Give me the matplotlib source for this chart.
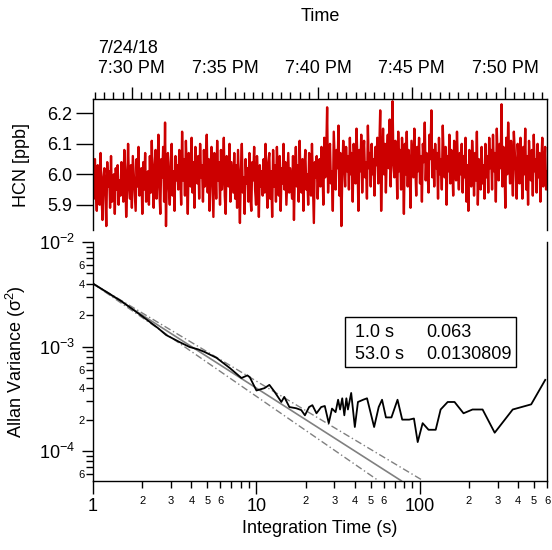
import numpy as np
import pandas as pd
import matplotlib
matplotlib.use("Agg")
import matplotlib.pyplot as plt
import matplotlib.dates as mdates
from matplotlib.ticker import LogLocator, FuncFormatter
from matplotlib.patches import Rectangle

plt.rcParams['font.family'] = ['Liberation Sans', 'DejaVu Sans']
plt.rcParams['mathtext.fontset'] = 'custom'
plt.rcParams['mathtext.rm'] = 'Liberation Sans'
plt.rcParams['mathtext.it'] = 'Liberation Sans:italic'
plt.rcParams['mathtext.default'] = 'regular'

# --- HCN time series (ppb) ---
hcn_ppb = [
    6.00, 5.92, 6.05, 5.95, 5.88, 6.03, 5.98, 5.90, 6.07, 5.93, 5.85, 5.99, 6.02, 5.94, 5.83,
    6.04, 5.96, 6.01, 5.89, 6.06, 5.91, 5.97, 6.00, 5.87, 6.02, 5.95, 6.03, 5.90, 5.98, 5.93,
    6.04, 5.99, 5.91, 6.08, 6.01, 5.86, 5.95, 6.10, 5.97, 5.92, 6.03, 5.89, 6.06, 6.00, 5.94,
    5.88, 6.05, 5.96, 6.09, 5.93, 5.99, 6.02, 5.87, 6.04, 5.95, 6.07, 5.91, 5.98, 6.01, 5.90,
    6.06, 5.94, 6.11, 5.97, 5.89, 6.03, 6.08, 5.92, 6.00, 6.13, 5.95, 5.87, 6.05, 5.99, 6.09,
    5.91, 6.17, 5.83, 6.02, 6.07, 5.96, 5.90, 6.04, 6.10, 5.93, 6.01, 5.88, 6.06, 5.98, 6.03,
    5.95, 6.08, 6.02, 5.90, 6.14, 5.98, 6.05, 5.93, 6.11, 6.00, 5.87, 6.07, 6.03, 5.96, 6.12,
    5.94, 6.04, 5.89, 6.09, 6.01, 5.97, 6.06, 5.92, 6.10, 5.99, 6.03, 5.91, 6.08, 5.96, 6.02,
    6.13, 5.94, 6.05, 5.88, 6.01, 6.09, 5.97, 5.86, 6.07, 6.03, 5.92, 6.11, 5.98, 6.04, 5.90,
    6.08, 5.95, 6.00, 6.12, 5.93, 5.87, 6.06, 6.02, 5.96, 6.10, 5.91, 6.04, 5.99, 5.94, 6.07,
    5.92, 6.03, 5.89, 6.08, 5.96, 5.84, 6.01, 6.10, 5.94, 5.99, 5.87, 6.05, 5.97, 6.02, 5.91,
    6.07, 5.93, 5.88, 6.04, 5.98, 6.09, 5.95, 5.90, 6.06, 5.99, 5.86, 6.03, 5.96, 6.01, 5.93,
    6.05, 5.94, 6.10, 5.98, 5.89, 6.04, 6.07, 5.92, 6.01, 5.86, 6.08, 5.96, 6.03, 5.91, 6.09,
    6.00, 5.93, 6.06, 5.88, 6.02, 5.97, 6.10, 5.95, 6.04, 5.90, 5.99, 6.07, 5.94, 6.02, 5.97,
    5.92, 6.06, 5.85, 6.01, 6.09, 5.96, 6.03, 5.91, 6.11, 5.98, 5.94, 6.05, 5.88, 6.02, 6.08,
    5.95, 6.00, 5.90, 6.07, 6.03, 5.93, 6.10, 5.97, 5.84, 6.04, 5.99, 6.06, 5.92, 6.01, 6.05,
    5.96, 6.09, 6.03, 5.90, 6.12, 5.99, 6.06, 6.22, 5.94, 6.04, 6.10, 5.97, 6.01, 5.88, 6.14,
    6.05, 5.95, 6.08, 6.02, 6.16, 5.93, 6.07, 5.83, 6.00, 6.11, 6.04, 5.96, 6.09, 6.01, 6.06,
    5.95, 6.12, 6.00, 6.07, 5.91, 6.10, 6.03, 5.97, 6.15, 6.05, 5.88, 6.08, 6.01, 6.13, 5.94,
    6.06, 6.11, 5.99, 6.04, 5.92, 6.16, 6.02, 6.07, 5.96, 6.10, 6.00, 6.05, 5.93, 6.09, 6.03,
    6.12, 5.97, 6.08, 6.21, 5.88, 6.04, 6.15, 6.00, 6.10, 5.94, 6.07, 6.13, 6.02, 6.18, 5.96,
    6.09, 6.24, 6.03, 5.99, 6.11, 6.06, 5.92, 6.14, 6.01, 6.08, 5.95, 6.12, 6.04, 5.87, 6.10,
    6.00, 6.14, 5.96, 6.08, 6.02, 5.89, 6.11, 6.05, 5.99, 6.15, 6.03, 5.93, 6.09, 6.01, 6.12,
    5.97, 6.06, 5.91, 6.10, 6.04, 6.17, 5.98, 6.07, 6.00, 5.94, 6.13, 6.05, 6.21, 5.99, 6.08,
    5.96, 6.10, 6.02, 6.07, 5.92, 6.12, 6.00, 6.05, 5.95, 6.16, 6.04, 5.99, 6.09, 5.90, 6.06,
    6.01, 6.13, 5.97, 6.08, 6.03, 5.93, 6.11, 6.05, 5.98, 6.14, 6.02, 5.95, 6.07, 6.00, 6.10,
    5.94, 6.06, 5.99, 6.12, 5.91, 6.03, 5.88, 6.08, 6.00, 5.96, 6.11, 6.04, 5.93, 6.07, 5.98,
    6.14, 5.90, 6.05, 6.01, 5.95, 6.09, 5.97, 6.03, 5.92, 6.10, 5.99, 6.06, 5.94, 6.12, 6.02,
    6.08, 5.95, 6.13, 6.01, 6.07, 5.91, 6.15, 6.04, 5.98, 6.10, 6.02, 6.23, 5.96, 6.09, 6.05,
    5.89, 6.12, 6.00, 6.17, 6.06, 5.97, 6.11, 6.03, 5.93, 6.14, 6.07, 6.01, 5.92, 6.10, 6.04,
    5.97, 6.12, 6.03, 5.92, 6.09, 6.00, 6.15, 5.95, 6.06, 5.90, 6.11, 6.02, 5.98, 6.08, 5.93,
    6.13, 6.01, 6.05, 5.94, 6.10, 5.99, 6.07, 5.91, 6.04, 6.12, 5.96, 6.02, 6.09, 5.95, 6.01,
]
t_start = "2018-07-24 19:27:55"
t_end = "2018-07-24 19:52:15"

# --- Allan variance ---
tau_s = [1, 1.5, 2, 2.5, 2.8, 3.4, 3.9, 4.4, 4.8, 5.7, 6.9, 8.1, 8.8, 9.1,
         10, 11.2, 12, 12.9, 14.2, 14.8, 15.9, 17.5, 18.8, 19.8, 21, 22, 23.3, 24.9,
         26.2, 27.7, 29, 30.5, 31.6, 32.5, 33.5, 34.5, 35.5, 36.3, 38, 40, 41.8, 45,
         47.5, 52.5, 56, 58.7, 62, 67, 73, 78, 86, 92, 97, 104, 113, 125,
         134, 148, 163, 185, 210, 242, 287, 370, 480, 585]
allan_var = [4.0e-3, 2.7e-3, 1.95e-3, 1.5e-3, 1.29e-3, 1.1e-3, 9.9e-4, 9.4e-4, 8.9e-4, 7.8e-4, 6.2e-4, 5.0e-4, 5.3e-4, 5.1e-4,
             3.8e-4, 4.0e-4, 4.3e-4, 3.7e-4, 2.95e-4, 3.3e-4, 2.64e-4, 2.57e-4, 2.47e-4, 2.2e-4, 2.64e-4, 2.75e-4, 2.3e-4, 2.64e-4,
             2.7e-4, 1.85e-4, 2.55e-4, 2.36e-4, 3.1e-4, 2.5e-4, 3.2e-4, 2.2e-4, 3.2e-4, 2.5e-4, 3.6e-4, 1.7e-4, 2.95e-4, 3.1e-4,
             3.2e-4, 1.7e-4, 2.64e-4, 3.1e-4, 2.1e-4, 2.1e-4, 3.1e-4, 2.0e-4, 2.0e-4, 2.05e-4, 1.22e-4, 1.85e-4, 1.6e-4, 1.6e-4,
             2.5e-4, 2.95e-4, 2.95e-4, 2.3e-4, 2.5e-4, 2.5e-4, 1.5e-4, 2.5e-4, 2.8e-4, 4.8e-4]

# white-noise reference line and its bounds (endpoints)
fit_tau = [1, 77]
fit_var = [4.0e-3, 5.2e-5]
hi_tau = [1, 105]
hi_var = [4.0e-3, 5.2e-5]
lo_tau = [1, 56]
lo_var = [4.0e-3, 5.2e-5]

box_rows = [("1.0 s", "0.063"), ("53.0 s", "0.0130809")]

FS = 13
red = "#CC0000"

fig = plt.figure(figsize=(5.52, 5.50), dpi=100)
ax_t = fig.add_axes([0.1685, 0.5818, 0.8225, 0.238])
ax_b = fig.add_axes([0.1685, 0.1255, 0.8225, 0.4345])

# ---- top panel: HCN time series ----
times = pd.date_range(t_start, t_end, periods=len(hcn_ppb))
ax_t.plot(times, hcn_ppb, color=red, lw=1.7)
ax_t.set_xlim(times[0], times[-1])
ax_t.set_ylim(5.817, 6.247)
ax_t.set_yticks([5.9, 6.0, 6.1, 6.2])
ax_t.set_ylabel("HCN [ppb]", fontsize=FS)
ax_t.yaxis.set_label_coords(-0.139, 0.5)
ax_t.spines['bottom'].set_visible(False)
ax_t.xaxis.tick_top()
ax_t.xaxis.set_label_position('top')
ax_t.set_xlabel("Time", fontsize=FS)
ax_t.xaxis.set_label_coords(0.5, 1.595)
ax_t.xaxis.set_major_locator(mdates.MinuteLocator(byminute=range(0, 60, 5)))
ax_t.xaxis.set_minor_locator(mdates.SecondLocator(bysecond=[0, 30]))


def time_fmt(v, pos):
    t = mdates.num2date(v)
    s = t.strftime("%I:%M %p").lstrip("0")
    if t.minute == 30:
        s = "7/24/18\n" + s
    return s


ax_t.xaxis.set_major_formatter(FuncFormatter(time_fmt))
ax_t.tick_params(axis='x', which='major', direction='out', length=9, width=1, labelsize=FS, pad=7)
ax_t.tick_params(axis='x', which='minor', direction='out', length=5, width=1)
ax_t.tick_params(axis='y', direction='out', length=12, width=1, labelsize=FS, pad=3)
for sp in ax_t.spines.values():
    sp.set_linewidth(1)

# ---- bottom panel: Allan variance ----
ax_b.plot(fit_tau, fit_var, color="#808080", lw=1.2)
ax_b.plot(hi_tau, hi_var, color="#808080", lw=1.0, dashes=(5, 2, 1, 2))
ax_b.plot(lo_tau, lo_var, color="#808080", lw=1.0, dashes=(5, 2, 1, 2))
ax_b.plot(tau_s, allan_var, color="black", lw=1.3)
ax_b.set_xscale('log')
ax_b.set_yscale('log')
ax_b.set_xlim(1, 600)
ax_b.set_ylim(5.18e-5, 1e-2)
ax_b.spines['top'].set_visible(False)
ax_b.set_xlabel("Integration Time (s)", fontsize=FS)
ax_b.set_ylabel("Allan Variance (σ$^{2}$)", fontsize=FS)
ax_b.yaxis.set_label_coords(-0.143, 0.5)

ax_b.xaxis.set_minor_locator(LogLocator(base=10, subs=range(2, 10), numticks=20))
ax_b.yaxis.set_minor_locator(LogLocator(base=10, subs=range(2, 10), numticks=20))
ax_b.xaxis.set_major_formatter(FuncFormatter(lambda v, pos: f"{v:g}"))


def minor_x(v, pos):
    m = int(round(v / 10 ** np.floor(np.log10(v) + 1e-9)))
    return str(m) if m in (2, 3, 4, 5, 6) else ""


def minor_y(v, pos):
    m = int(round(v / 10 ** np.floor(np.log10(v) + 1e-9)))
    return str(m) if m in (2, 4, 6) else ""


ax_b.xaxis.set_minor_formatter(FuncFormatter(minor_x))
ax_b.yaxis.set_minor_formatter(FuncFormatter(minor_y))
ax_b.tick_params(axis='x', which='major', direction='out', length=9, width=1, labelsize=FS, pad=3)
ax_b.tick_params(axis='x', which='minor', direction='out', length=5, width=1, labelsize=8, pad=6)
ax_b.tick_params(axis='y', which='major', direction='out', length=8, width=1, labelsize=FS, pad=5)
ax_b.tick_params(axis='y', which='minor', direction='out', length=5, width=1, labelsize=8, pad=1)
for sp in ax_b.spines.values():
    sp.set_linewidth(1)

# results box
ax_b.add_patch(Rectangle((0.555, 0.477), 0.377, 0.209, transform=ax_b.transAxes,
                         fill=False, edgecolor="black", lw=1, zorder=5))
for (a, b), yy in zip(box_rows, [0.623, 0.531]):
    ax_b.text(0.577, yy, a, transform=ax_b.transAxes, fontsize=FS, va='center', ha='left')
    ax_b.text(0.733, yy, b, transform=ax_b.transAxes, fontsize=FS, va='center', ha='left')

fig.canvas.draw()
for lbl in ax_t.get_xticklabels():
    if "\n" in lbl.get_text():
        lbl.set_multialignment('left')

fig.savefig("out.png", dpi=100)
